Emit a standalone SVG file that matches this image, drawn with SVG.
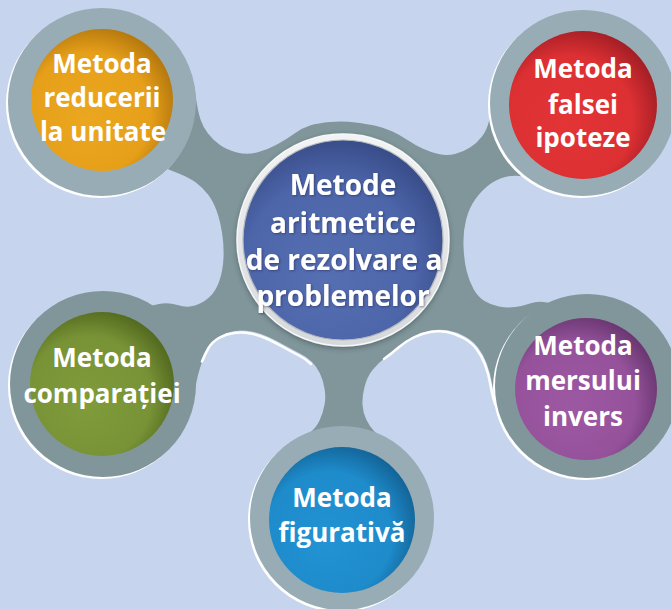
<svg xmlns="http://www.w3.org/2000/svg" width="671" height="609" viewBox="0 0 671 609">
<defs>
<style>
.lbl{font-family:"Open Sans","Noto Sans","Liberation Sans",sans-serif;font-weight:700;fill:#ffffff;text-anchor:middle}
.sm{font-size:26px}
.big{font-size:28px}
.ringL{fill:#97acb4}
.ringD{fill:#80969a}
.hl{fill:#ffffff}
.edge{fill:none;stroke:#ffffff;stroke-width:2.5;stroke-linecap:round}
</style>
<radialGradient id="gOr" cx="0.42" cy="0.58" r="0.6" fx="0.38" fy="0.65"><stop offset="0" stop-color="#eba71f"/><stop offset="0.72" stop-color="#e69f19"/><stop offset="1" stop-color="#b77a0e"/></radialGradient>
<radialGradient id="gRd" cx="0.42" cy="0.58" r="0.6" fx="0.38" fy="0.65"><stop offset="0" stop-color="#e33436"/><stop offset="0.72" stop-color="#dc3033"/><stop offset="1" stop-color="#a61f26"/></radialGradient>
<radialGradient id="gPu" cx="0.42" cy="0.58" r="0.6" fx="0.38" fy="0.65"><stop offset="0" stop-color="#9d58a2"/><stop offset="0.72" stop-color="#95529b"/><stop offset="1" stop-color="#6c3873"/></radialGradient>
<radialGradient id="gBl" cx="0.42" cy="0.58" r="0.6" fx="0.38" fy="0.65"><stop offset="0" stop-color="#2393d3"/><stop offset="0.72" stop-color="#1e8bcb"/><stop offset="1" stop-color="#14669a"/></radialGradient>
<radialGradient id="gGr" cx="0.42" cy="0.58" r="0.6" fx="0.38" fy="0.65"><stop offset="0" stop-color="#7f9b3a"/><stop offset="0.72" stop-color="#789336"/><stop offset="1" stop-color="#556b20"/></radialGradient>
<radialGradient id="gCt" cx="0.45" cy="0.6" r="0.6" fx="0.4" fy="0.7"><stop offset="0" stop-color="#566fb3"/><stop offset="0.7" stop-color="#4d66aa"/><stop offset="1" stop-color="#394d8a"/></radialGradient>
<linearGradient id="gRim" x1="0" y1="0" x2="0" y2="1"><stop offset="0" stop-color="#f2f3f4"/><stop offset="1" stop-color="#d6d9dc"/></linearGradient>
<filter id="shadow" x="-20%" y="-20%" width="140%" height="140%"><feDropShadow dx="0" dy="2" stdDeviation="2.5" flood-color="#2c3c44" flood-opacity="0.45"/></filter>
<filter id="tshadow" x="-10%" y="-30%" width="120%" height="160%"><feDropShadow dx="1" dy="1" stdDeviation="1" flood-color="#1c2444" flood-opacity="0.5"/></filter>
</defs>
<rect width="671" height="609" fill="#c6d5ed"/>
<g id="connectors">
<path fill="#80969a" d="M194,85 L196,98.5 Q198,112 200.5,119.5 Q203,127 208,133.5 Q213,140 220,145 Q227,150 237,152.5 Q247,155 257,152.5 Q267,150 277,144.5 Q287,139 294.5,133.5 Q302,128 310,125.5 Q318,123 330.5,122 Q343,121 355.5,122.5 Q368,124 376.5,126 Q385,128 392.5,131.5 Q400,135 407.5,140 Q415,145 422.5,148.5 Q430,152 438.5,154 Q447,156 455,154 Q463,152 470,147.5 Q477,143 482,136.5 Q487,130 489,121 Q491,112 491.5,103.5 L492,95 L540,183 L533.5,180 Q527,177 520,176 Q513,175 505,177 Q497,179 489.5,184.5 Q482,190 475.5,199 Q469,208 466,220 Q463,232 463.5,246 Q464,260 466.5,270.5 Q469,281 473.5,289 Q478,297 484.5,301 Q491,305 499,306.5 Q507,308 515,307 Q523,306 530,303.5 Q537,301 543.5,302 L550,303 L499,410 L496.5,402.5 Q494,395 492,383.5 Q490,372 486.5,363 Q483,354 478,347.5 Q473,341 465,336.5 Q457,332 448.5,330.5 Q440,329 431.5,330.5 Q423,332 415,336 Q407,340 400,346 Q393,352 385.5,357.5 Q378,363 372.5,370 Q367,377 364.5,387 Q362,397 362.5,405 Q363,413 366.5,420 Q370,427 374,431 L378,435 L303,438 L309.5,433 Q316,428 319.5,420.5 Q323,413 324.5,405 Q326,397 324.5,388.5 Q323,380 320,373.5 Q317,367 312,362 Q307,357 300,353.5 Q293,350 285,345.5 Q277,341 268.5,337 Q260,333 251.5,331.5 Q243,330 235,331 Q227,332 220,336 Q213,340 209.5,346 Q206,352 203,359.5 Q200,367 198,375 Q196,383 194.5,392.5 L193,402 L150,306 L159,304 Q168,302 177.5,305 Q187,308 195,305.5 Q203,303 209.5,297 Q216,291 219.5,280.5 Q223,270 223.5,257.5 Q224,245 222,232.5 Q220,220 216.5,210.5 Q213,201 208,194.5 Q203,188 196.5,183 Q190,178 177.5,173 L165,168 Z"/>
<path class="edge" transform="translate(-1,2)" d="M203,359.5 Q206,352 209.5,346 Q213,340 220,336 Q227,332 235,331 Q243,330 251.5,331.5 Q260,333 268.5,337 Q277,341 285,345.5 Q293,350 300,353.5 Q307,357 312,362"/>
<path class="edge" transform="translate(-1.5,1.5)" d="M385.5,357.5 Q393,352 400,346 Q407,340 415,336 Q423,332 431.5,330.5 Q440,329 448.5,330.5 Q457,332 465,336.5 Q473,341 478,347.5 Q483,354 486.5,363 Q490,372 492,383.5 Q494,395 496.5,402.5"/>
</g>
<g id="node-center">
<circle cx="343" cy="240" r="106" fill="url(#gRim)" stroke="#f7f7f7" stroke-width="1.5" filter="url(#shadow)"/>
<circle cx="343" cy="240" r="100" fill="url(#gCt)" stroke="#b4b9be" stroke-width="1.2"/>
<g filter="url(#tshadow)">
<text class="lbl big" x="343" y="195">Metode</text>
<text class="lbl big" x="343" y="233">aritmetice</text>
<text class="lbl big" x="344" y="270">de rezolvare a</text>
<text class="lbl big" x="343" y="306">problemelor</text>
</g>
</g>
<g id="node-reducerii">
<circle class="hl" cx="100" cy="104" r="94"/>
<circle class="ringL" cx="102" cy="102" r="94"/>
<circle cx="102" cy="100" r="71" fill="url(#gOr)"/>
<text class="lbl sm" x="102" y="73">Metoda</text>
<text class="lbl sm" x="102" y="107">reducerii</text>
<text class="lbl sm" x="103" y="141">la unitate</text>
</g>
<g id="node-falsei">
<circle class="hl" cx="581" cy="105" r="93"/>
<circle class="ringL" cx="583" cy="103" r="93"/>
<circle cx="583" cy="105" r="74" fill="url(#gRd)"/>
<text class="lbl sm" x="583" y="78">Metoda</text>
<text class="lbl sm" x="583" y="114">falsei</text>
<text class="lbl sm" x="583" y="147">ipoteze</text>
</g>
<g id="node-comparatiei">
<circle class="hl" cx="101" cy="386" r="93"/>
<circle class="ringD" cx="103" cy="384" r="93"/>
<circle cx="102" cy="384" r="72" fill="url(#gGr)"/>
<text class="lbl sm" x="102" y="367">Metoda</text>
<text class="lbl sm" x="102" y="403">comparației</text>
</g>
<g id="node-figurativa">
<circle class="hl" cx="340" cy="520" r="92"/>
<circle class="ringL" cx="342" cy="518" r="92"/>
<circle cx="342" cy="520" r="73" fill="url(#gBl)"/>
<text class="lbl sm" x="342" y="507">Metoda</text>
<text class="lbl sm" x="342" y="542">figurativă</text>
</g>
<g id="node-mersului">
<circle class="hl" cx="585" cy="388" r="92"/>
<circle class="ringD" cx="587" cy="386" r="92"/>
<circle cx="586" cy="389" r="71" fill="url(#gPu)"/>
<text class="lbl sm" x="583" y="355">Metoda</text>
<text class="lbl sm" x="583" y="390">mersului</text>
<text class="lbl sm" x="583" y="426">invers</text>
</g>
</svg>
